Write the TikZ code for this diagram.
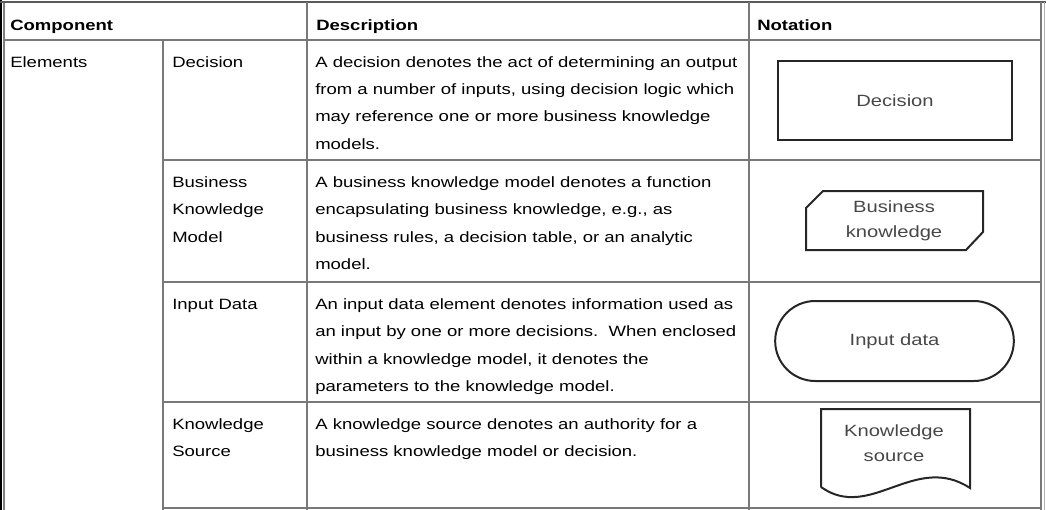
\documentclass[tikz,border=0pt]{standalone}
\usepackage{fontspec}
\setmainfont{Liberation Sans}[FakeStretch=1.24]
\usetikzlibrary{shapes.misc}
\begin{document}
\begin{tikzpicture}[x=0.75pt,y=-0.75pt,
  grid/.style={draw=gray!95!black,line width=1.5pt},
  body/.style={anchor=base west,inner sep=0pt,align=left,font=\fontsize{11.2}{20.5}\selectfont},
  head/.style={anchor=base west,inner sep=0pt,font=\fontsize{11.2}{20.5}\selectfont\bfseries},
  shapetext/.style={text=black!72,align=center,font=\fontsize{12.2}{18.5}\selectfont},
  shapeline/.style={draw=black!85,line width=1.5pt}]
\useasboundingbox (0,0) rectangle (1046,510);
% outer frame
\draw[line width=1.5pt,black] (1,0) -- (1,510);
\draw[line width=1.2pt,gray] (3.8,2) -- (3.8,510);
\draw[line width=1.5pt,black!65] (0,2) -- (1046,2);
\draw[grid] (1040.5,2) -- (1040.5,510);
\draw[line width=1pt,gray!60] (1044.3,2) -- (1044.3,510);
% grid lines
\draw[grid] (3,40.5) -- (1041,40.5);
\draw[grid] (163,40.5) -- (163,510);
\draw[grid] (307,2) -- (307,510);
\draw[grid] (749,2) -- (749,510);
\draw[grid] (163,159.5) -- (1041,159.5);
\draw[grid] (163,282) -- (1041,282);
\draw[grid] (163,402) -- (1041,402);
\draw[grid] (163,507.5) -- (1041,507.5);
% header
\node[head] (hcomp) at (10,31) {Component};
\node[head] (hdesc) at (316,31) {Description};
\node[head] (hnot) at (757,31) {Notation};
% column 1 and 2 (base anchor = baseline of last line; line pitch 27.33px)
\node[body] (elem) at (10,67.3) {Elements};
\node[body] (cdec) at (172,67.3) {Decision};
\node[body] (cbkm) at (172,242.2) {Business\\Knowledge\\Model};
\node[body] (cin) at (172,309.5) {Input Data};
\node[body] (cks) at (172,456.8) {Knowledge\\Source};
% descriptions
\node[body] (ddec) at (315,149.3) {A decision denotes the act of determining an output\\from a number of inputs, using decision logic which\\may reference one or more business knowledge\\models.};
\node[body] (dbkm) at (315,269.5) {A business knowledge model denotes a function\\encapsulating business knowledge, e.g., as\\business rules, a decision table, or an analytic\\model.};
\node[body] (din) at (315,391.5) {An input data element denotes information used as\\an input by one or more decisions.\ \ When enclosed\\within a knowledge model, it denotes the\\parameters to the knowledge model.};
\node[body] (dks) at (315,456.8) {A knowledge source denotes an authority for a\\business knowledge model or decision.};
% notation shapes
\node[shapeline,shapetext,minimum width=176,minimum height=59,inner sep=0pt] (ndec) at (895,100.5) {Decision};
\draw[shapeline] (823,191) -- (983,191) -- (983,232) -- (966,250) -- (806,250) -- (806,208) -- cycle;
\node[shapetext] (nbkm) at (894,220.5) {Business\\knowledge};
\node[shapeline,shapetext,rounded rectangle,minimum width=179,minimum height=60,inner sep=0pt] (nin) at (894.5,341) {Input data};
\draw[shapeline] (821,487) -- (821,409) -- (970,409) -- (970,488) .. controls (915,452) and (870,522) .. (821,487);
\node[shapetext] (nks) at (894,443) {Knowledge\\source};
\end{tikzpicture}
\end{document}
